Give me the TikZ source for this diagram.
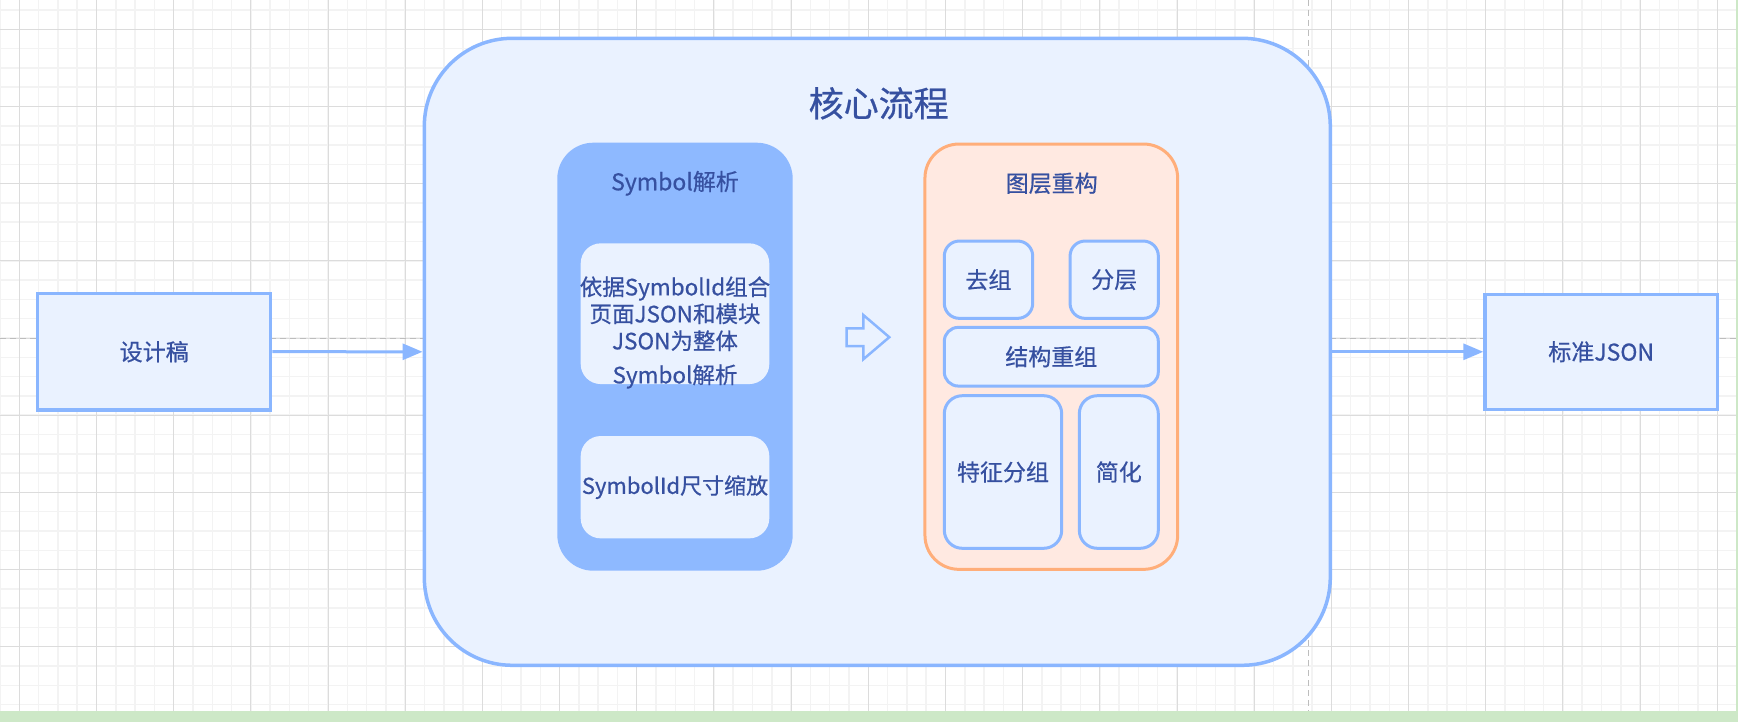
\documentclass[tikz,border=0pt]{standalone}
\usepackage{fontspec}
\newfontfamily\cjk[FakeBold=0.6]{Noto Sans CJK SC}
\usetikzlibrary{arrows.meta}
\definecolor{bgfill}{HTML}{EAF2FF}
\definecolor{bstroke}{HTML}{8AB6FF}
\definecolor{symfill}{HTML}{8EB9FF}
\definecolor{ofill}{HTML}{FFE9E1}
\definecolor{ostroke}{HTML}{FFAE7A}
\definecolor{txt}{HTML}{3650A0}
\definecolor{gminor}{HTML}{F3F3F3}
\definecolor{gmajor}{HTML}{DCDCDC}
\definecolor{gdash}{HTML}{BDBDBD}
\definecolor{gbar}{HTML}{CDE8C7}
\tikzset{
  txtstyle/.style={font=\cjk\fontsize{23}{27}\selectfont, text=txt, align=center, inner sep=0pt},
  bluebox/.style={txtstyle, rectangle, draw=bstroke, line width=3pt, fill=bgfill},
  flatbox/.style={bluebox, line width=3.5pt},
  whitebox/.style={txtstyle, rectangle, fill=bgfill, rounded corners=20pt},
  minorline/.style={draw=gminor, line width=1.5pt},
  majorline/.style={draw=gmajor, line width=1pt},
  guide/.style={draw=gdash, line width=1.5pt, dash pattern=on 6pt off 4pt},
  conn/.style={draw=bstroke, line width=3pt, -{Triangle[length=20pt,width=16pt]}},
}
\begin{document}
\begin{tikzpicture}[x=1pt,y=-1pt]
\useasboundingbox (0,0) rectangle (1738,722);
\fill[white] (0,0) rectangle (1738,722);
% grid
\foreach \i in {-1,...,89} \draw[minorline] ({19.3+19.295*\i},0) -- ({19.3+19.295*\i},722);
\foreach \i in {-2,...,36} \draw[minorline] (0,{29.3+19.295*\i}) -- (1738,{29.3+19.295*\i});
\foreach \i in {0,...,22} \draw[majorline] ({19.3+77.18*\i},0) -- ({19.3+77.18*\i},722);
\foreach \i in {0,...,8} \draw[majorline] (0,{29.3+77.18*\i}) -- (1738,{29.3+77.18*\i});
% guides
\draw[guide] (0,338.3) -- (1738,338.3);
\draw[guide] (1308.7,0) -- (1308.7,722);
% green edges
\fill[gbar] (0,711) rectangle (1738,722);
\fill[gbar] (1735.5,0) rectangle (1738,722);

% main container
\node[bluebox, line width=3.5pt, rounded corners=88pt, minimum width=906pt, minimum height=627pt] (m) at (877.3,351.8) {};
\node[txtstyle, font=\cjk\fontsize{35}{40}\selectfont] (title) at (878.7,103.3) {核心流程};

% input / output
\node[flatbox, minimum width=233pt, minimum height=116.7pt] (d) at (154.2,351.7) {设计稿};
\node[flatbox, minimum width=232.3pt, minimum height=115pt] (b) at (1601.2,351.8) {标准JSON};

% Symbol block
\node[rectangle, fill=symfill, rounded corners=36pt, minimum width=235.4pt, minimum height=428pt] (sym) at (675,356.7) {};
\node[txtstyle] (symt) at (675,183.3) {Symbol解析};
\node[whitebox, minimum width=188.6pt, minimum height=140.7pt] (s1) at (675,313.7) {};
\node[txtstyle, font=\cjk\fontsize{22.5}{27}\selectfont] (s1t) at (675,332.5) {依据SymbolId组合\\页面JSON和模块\\JSON为整体\\[7pt]Symbol解析};
\node[whitebox, minimum width=188.6pt, minimum height=102.3pt] (s2) at (675,487.2) {};
\node[txtstyle, font=\cjk\fontsize{22}{26}\selectfont] (s2t) at (s2.center) {SymbolId尺寸缩放};

% hollow arrow
\draw[draw=bstroke, fill=bgfill, line width=2.5pt, line join=miter]
  (846.7,328.3) -- (863.3,328.3) -- (863.3,315) -- (889.3,337.2) -- (863.3,359.3) -- (863.3,346) -- (846.7,346) -- cycle;

% layer block
\node[rectangle, draw=ostroke, fill=ofill, line width=3pt, rounded corners=34pt, minimum width=252.7pt, minimum height=425.3pt] (o) at (1051.3,356.7) {};
\node[txtstyle] (ot) at (1051.7,183.3) {图层重构};
\node[bluebox, rounded corners=15pt, minimum width=88.4pt, minimum height=77.3pt] (q) at (988.5,279.7) {去组};
\node[bluebox, rounded corners=15pt, minimum width=88.3pt, minimum height=77.3pt] (f) at (1114.2,279.7) {分层};
\node[bluebox, rounded corners=14pt, minimum width=214pt, minimum height=58.7pt] (j) at (1051.3,356.7) {结构重组};
\node[bluebox, rounded corners=18pt, minimum width=117.4pt, minimum height=152.6pt] (t) at (1003,472) {特征分组};
\node[bluebox, rounded corners=18pt, minimum width=79pt, minimum height=152.6pt] (h) at (1118.8,472) {简化};

% connectors
\draw[conn] (d.east) -- (m.west);
\draw[conn] (m.east) -- (b.west);
\end{tikzpicture}
\end{document}
